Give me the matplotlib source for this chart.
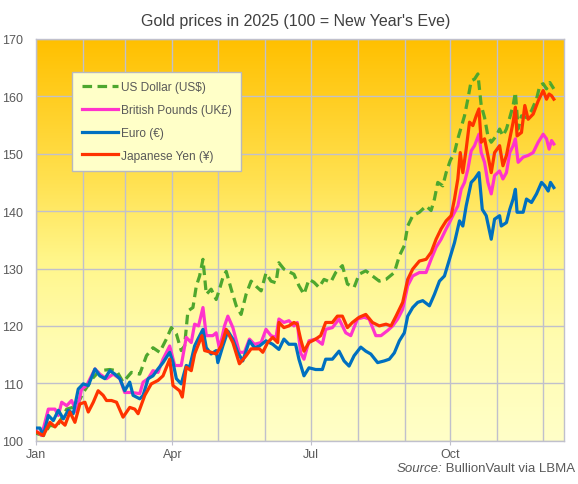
import numpy as np
import pandas as pd
import matplotlib
matplotlib.use("Agg")
import matplotlib.pyplot as plt
import matplotlib.dates as mdates
from matplotlib.colors import LinearSegmentedColormap

plt.rcParams['font.family'] = ['Liberation Sans', 'DejaVu Sans']

# days after 1 Jan 2025
usd_days = [0, 5, 9.4, 13.8, 20.4, 26.9, 31.3, 37.9, 42.2, 48.8,
            53.2, 57.5, 63, 68.5, 72.9, 77.2, 81.6, 86, 89.3, 92.6,
            95.8, 98, 100.2, 103.5, 105.7, 107.9, 110.1, 112.3, 115.5, 118.8,
            121, 123.2, 125.4, 128.7, 132, 135.2, 138.5, 141.8, 145.1, 148.4,
            151.6, 154.9, 158.2,
            160.1, 163.4, 167.8, 170, 173.3, 176.6, 179.9, 183.2, 186.5, 189.8,
            194.2, 197.5, 201.9, 205.2, 209.6, 212.9, 217.3, 221.7, 226.2, 230.6,
            236.1, 239.4, 242.7, 244.9, 248.2, 252.6, 257, 260.3, 262.5, 264.7,
            268, 270.2, 272.9, 275.7, 277.9, 280.1, 282.3, 284.5, 286.7, 288.9,
            291.1, 293.3, 295.5, 297.7, 299.9, 303.2, 305.4, 307.6, 309.9, 312.1,
            314.3, 315.8, 317.6, 319.8, 323.1, 326.4, 329.7, 331.9, 334.1, 336.3,
            338.5, 341.1]
usd_vals = [101.3, 100.9, 102.7, 102.4, 105.5, 106, 108.4, 111, 112.2, 112.4,
            112.2, 110.2, 111.9, 111.6, 114.8, 116.2, 115.4, 117.7, 119.7, 118.6,
            115.7, 116.5, 122.6, 123.2, 126.9, 128.7, 131.6, 125.5, 126.4, 124.6,
            126.4, 128.4, 129.5, 126.4, 123.5, 122, 125.5, 127.8, 126.9, 126.1,
            129.2, 127.8, 127.5,
            131.0, 129.9, 129.3, 129, 127, 125.5, 128.1, 127.6, 126.7, 128.1,
            127.6, 129.3, 130.5, 127.3, 126.7, 129, 129.6, 128.7, 127.8, 128.1,
            129.3, 132.2, 134, 137.4, 139.2, 139.8, 140.9, 140.1, 142.1, 145,
            144.4, 146.7, 148.8, 150.2, 152.6, 154.6, 156.6, 159.5, 162.7, 163,
            163.9, 158.4, 156.3, 153.1, 152, 153.1, 154.3, 153.1, 154.3, 156.3,
            158.4, 160.7, 154.3, 156.6, 156.3, 157.5, 159.5, 161.9, 162.2, 161.3,
            162.4, 161.3]

gbp_days = [0, 3.9, 8.3, 12.7, 14.9, 17.1, 20.4, 23.6, 26.9, 30.2,
            33.5, 39, 42.2, 46.6, 51, 55.4, 58.6, 63, 68.5, 70.7,
            74, 77.2, 80.5, 83.8, 88.2, 91.5, 95.8, 99.1, 102.4, 104.6,
            107.2, 110.1, 112.3, 116.6, 118.8, 121, 124.3, 126.5, 129.8, 134.1,
            137.4, 140.7, 144, 148.4, 151.6, 154.9, 158.2,
            160.1, 163.4, 166.7, 170, 172.2, 174.4, 176.6, 179.9, 184.3, 188.7,
            190.9, 195.3, 199.7, 204.1, 207.4, 211.8, 216.2, 219.5, 223.9, 227.3,
            231.7, 235, 238.3, 241.6, 244.9, 248.2, 252.6, 257, 260.3, 263.6,
            266.9, 270.2, 272.4, 274.6, 277.9, 280.1, 282.3, 284.5, 286.7, 288.9,
            291.8, 293.3, 295.5, 297.7, 299.9, 302.1, 305.4, 307.6, 309.9, 312.1,
            314.3, 315.8, 317.6, 320.9, 324.2, 327.5, 330.8, 334.1, 336.3, 338,
            339.6, 341.1]
gbp_vals = [101.8, 100.9, 105.5, 105.5, 104.4, 106.7, 106.1, 107, 105, 109,
            109.6, 112.5, 111.6, 110.8, 111.6, 110.8, 108.4, 108.4, 108.2, 110.2,
            110.8, 112.2, 111.9, 114.2, 116.5, 113.1, 113.1, 118, 117.1, 120.3,
            120, 123.2, 118.3, 118.3, 118.8, 116, 120, 121.7, 119.7, 115.4,
            115.4, 117.7, 116.8, 117.1, 119.4, 118.3, 118,
            121.2, 120.6, 120.9, 120, 120.6, 115.3, 114.2, 117.4, 117.7, 116.8,
            119.4, 119.7, 121.2, 118.8, 118.3, 121.2, 121.5, 121.2, 118.3, 118.3,
            119.2, 120, 121.2, 122.9, 127, 128.7, 129.3, 129.3, 131.6, 133.7,
            135.1, 136.9, 138, 139.2, 140.9, 143.8, 145, 147.3, 150.5, 151.4,
            153.4, 150.2, 148.5, 145, 143, 146.2, 147, 145.6, 146.7, 150.2,
            151.4, 152.6, 148.5, 149.4, 149.7, 150.2, 152, 153.4, 152.6, 150.8,
            152.3, 151.7]

eur_days = [0, 2.8, 5, 8.3, 11.6, 14.9, 18.2, 21.4, 24.7, 28,
            31.3, 34.6, 39, 42.2, 45.5, 48.8, 52.1, 55.4, 58.6, 61.9,
            64.1, 68.5, 70.7, 74, 77.2, 80.5, 83.8, 88.2, 90.4, 92.6,
            95.8, 99.1, 101.3, 104.6, 106.8, 110.1, 112.3, 115.5, 118.8, 119.9,
            123.2, 126.5, 129.8, 133, 136.3, 140.7, 144, 147.3, 151.6, 156,
            160.1, 163.4, 166.7, 171.1, 173.3, 176.6, 179.9, 184.3, 188.7, 190.9,
            195.3, 199.7, 203, 206.3, 209.6, 214, 217.3, 220.6, 225.1, 229.5,
            232.8, 236.1, 239.4, 242.7, 244.9, 248.2, 251.5, 254.8, 259.2, 262.5,
            265.8, 269.1, 272.4, 275.7, 279, 281.2, 283.4, 286.7, 288.9, 291.8,
            294, 296.6, 299.9, 302.1, 305.4, 306.5, 309.9, 312.1, 314.3, 315.8,
            316.9, 320.9, 323.1, 326.4, 329.7, 333, 335.2, 337.4, 338.9, 341.1]
eur_vals = [102.2, 102.2, 100.9, 104.4, 103.5, 105.3, 103.8, 105.3, 104.7, 109,
            109.9, 109.6, 112.5, 111.3, 110.8, 112.2, 111.6, 110.8, 108.7, 110.2,
            107.9, 107.3, 107.9, 110.8, 111.3, 112.5, 113.6, 115.4, 113.6, 110.8,
            109.9, 113.1, 112.8, 116.5, 117.7, 119.4, 116.2, 115.1, 115.7, 113.6,
            116.5, 119.1, 117.7, 115.4, 113.9, 117.4, 116.2, 116.5, 117.4, 116.8,
            115.9, 117.7, 116.8, 116.8, 114.2, 111.3, 112.7, 112.4, 112.4, 114.2,
            114.2, 115.6, 113.9, 113, 114.8, 116.3, 115.6, 115.1, 113.6, 113.9,
            114.2, 115.3, 117.4, 118.8, 121.7, 123.2, 124.1, 124.4, 123.5, 125.5,
            127.8, 128.7, 131.6, 134.5, 138.3, 137.4, 140.9, 145, 145.6, 146.7,
            140.3, 139.2, 135.1, 138.6, 139.2, 137.4, 138, 140.3, 142.1, 143.8,
            139.8, 139.8, 142.1, 141.5, 143, 145, 144.4, 143.5, 145, 144.1]

jpy_days = [0, 5, 9.4, 12.7, 16, 19.3, 22.5, 25.8, 29.1, 32.4,
            34.6, 37.9, 41.1, 44.4, 46.6, 49.9, 53.2, 57.5, 61.9, 65.2,
            67.4, 71.8, 76.1, 80.5, 83.8, 88.2, 90.4, 94.7, 96.5, 99.1,
            102.4, 104.6, 109.4, 111.2, 115.5, 118.8, 122.1, 125.4, 129.8, 134.1,
            138.5, 141.8, 147.3, 149.5, 152.7, 156, 159.3,
            160.1, 163.4, 166.7, 170, 172.2, 174.4, 176.6, 179.9, 184.3, 187.6,
            190.9, 195.3, 198.6, 201.9, 205.2, 208.5, 212.9, 217.3, 221.7, 226.2,
            230.6, 233.9, 237.2, 241.6, 244.9, 248.2, 252.6, 257, 260.3, 263.6,
            266.9, 270.2, 273.5, 275.7, 277.9, 279.5, 281.2, 283.4, 285.6, 287.8,
            290, 291.8, 293.3, 295.5, 297.7, 299.9, 302.1, 305.4, 307.6, 309.9,
            312.1, 314.3, 315.8, 316.9, 319.8, 322, 324.2, 327.5, 330.8, 334.1,
            336.3, 338, 339.6, 341.1]
jpy_vals = [101.6, 100.9, 103.2, 102.4, 103.5, 102.7, 105, 103.2, 106.4, 106.7,
            105, 106.7, 108.7, 107.9, 107, 107, 106.7, 104.1, 105.8, 105.5,
            104.7, 107.9, 109.9, 110.5, 111.3, 114.2, 109.6, 108.7, 107.6, 112.8,
            112.2, 115.1, 118.3, 115.7, 115.4, 115.1, 116.5, 119.4, 117.1, 113.4,
            114.8, 116, 116, 115.4, 117.1, 118, 117.1,
            120.6, 119.7, 120, 120.6, 120.3, 117.7, 115.6, 117.1, 117.7, 118.3,
            120.6, 120.6, 121.7, 121.7, 119.7, 120.6, 121.5, 122, 120.6, 120,
            120.3, 120, 121.7, 124.1, 128.1, 129.9, 131.3, 131.6, 132.8, 135.1,
            136.9, 138.3, 139.2, 142.1, 145.6, 150.2, 146.7, 150.8, 155.5, 154.9,
            156.6, 157.8, 152, 152.6, 149.7, 146.7, 150.2, 151.4, 147.9, 149.7,
            152.6, 155.5, 158.1, 153.1, 153.7, 158.4, 156, 156.9, 159.2, 161,
            159.5, 160.4, 160.1, 159.5]

series_labels = ["US Dollar (US$)", "British Pounds (UK£)", "Euro (€)", "Japanese Yen (¥)"]
y_ticks = [100, 110, 120, 130, 140, 150, 160, 170]

start = pd.Timestamp("2025-01-01")
def to_dates(days):
    return start + pd.to_timedelta(np.array(days), unit="D")

fig = plt.figure(figsize=(5.78, 4.85), dpi=100)
ax = fig.add_axes([0.0618, 0.0893, 0.9145, 0.8284])

# gold background gradient
bg = LinearSegmentedColormap.from_list("gold", [
    (0.0, "#FFFFC8"), (0.25, "#FFFCB0"), (0.45, "#FFF68A"),
    (0.65, "#FFE150"), (1.0, "#FFC000")])
ax.imshow(np.linspace(0, 1, 256).reshape(-1, 1), cmap=bg, origin="lower",
          extent=[0, 1, 0, 1], transform=ax.transAxes, aspect="auto", zorder=0)

lw = 2.3
ax.plot(to_dates(usd_days), usd_vals, color="#4EA72E", lw=lw, ls=(0, (3.0, 1.7)),
        label=series_labels[0], zorder=3)
ax.plot(to_dates(gbp_days), gbp_vals, color="#FF33CC", lw=lw, label=series_labels[1], zorder=4)
ax.plot(to_dates(eur_days), eur_vals, color="#0070C0", lw=lw, label=series_labels[2], zorder=5)
ax.plot(to_dates(jpy_days), jpy_vals, color="#FF3300", lw=lw, label=series_labels[3], zorder=6)

ax.set_xlim(start, start + pd.Timedelta(days=348))
ax.set_ylim(100, 170)
ax.set_yticks(y_ticks)

ax.xaxis.set_major_locator(mdates.MonthLocator(bymonth=[1, 4, 7, 10]))
ax.xaxis.set_major_formatter(mdates.DateFormatter("%b"))
ax.xaxis.set_minor_locator(mdates.MonthLocator())

grid_c = "#C0C0CC"
ax.grid(True, which="both", color=grid_c, lw=1.0, zorder=1)
ax.set_axisbelow(False)
for gl in ax.get_xgridlines() + ax.get_ygridlines():
    gl.set_zorder(1)
for s in ax.spines.values():
    s.set_color(grid_c)
    s.set_linewidth(1.0)

txt_c = "#595959"
ax.tick_params(axis="y", length=0, pad=9, labelsize=9, labelcolor=txt_c)
ax.tick_params(axis="x", which="major", length=3, color=grid_c, pad=2, labelsize=9, labelcolor=txt_c)
ax.tick_params(axis="x", which="minor", length=0)

fig.text(0.512, 0.955, "Gold prices in 2025 (100 = New Year's Eve)", ha="center", va="center",
         fontsize=11.5, color="#404040")

leg = ax.legend(loc="upper left", bbox_to_anchor=(0.0692, 0.918), borderaxespad=0,
                fontsize=8.6, handlelength=3.0, handletextpad=0.25, labelspacing=0.9,
                borderpad=0.8, fancybox=False, framealpha=1, facecolor="#FFFFC8",
                edgecolor="#B8B8C0")
leg.get_frame().set_linewidth(1.0)
for t in leg.get_texts():
    t.set_color(txt_c)

src = fig.text(0.995, 0.033, " BullionVault via LBMA", ha="right", va="center",
               fontsize=9.5, color=txt_c)
ax.annotate("Source:", xy=(0, 0.5), xycoords=src, ha="right", va="center",
            fontsize=9.5, color=txt_c, style="italic")

fig.savefig("out.png", dpi=100)
